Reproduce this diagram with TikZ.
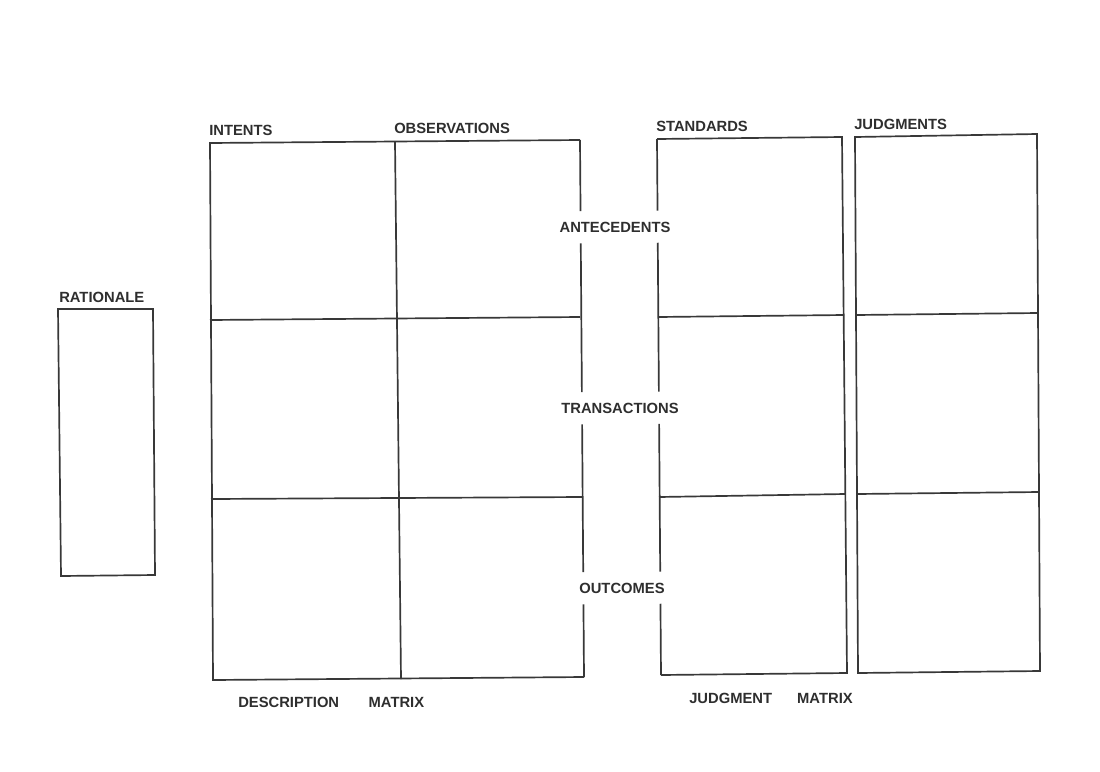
\documentclass[tikz,border=0pt]{standalone}
\usepackage{fontspec}
\setmainfont{Liberation Sans}
\usetikzlibrary{calc}
\tikzset{every node/.style={font=\bfseries\fontsize{10.5}{12}\selectfont, text=inkcol, inner sep=1pt}}
\tikzset{rowlabel/.style={inner xsep=2pt, inner ysep=0.25cm}}

\begin{document}
\begin{tikzpicture}[x=0.025cm, y=-0.025cm, line width=1.2pt]
  % Bounding box of the scanned page
  \path[use as bounding box] (0,0) rectangle (1100,771);

  % Colours of the scan.
  \colorlet{inkcol}{black!82}
  \colorlet{linecol}{black!78}

  % Corners of the rationale box.
  \coordinate (RTL) at (58,309);
  \coordinate (RTR) at (153,309);
  \coordinate (RBR) at (155,575);
  \coordinate (RBL) at (61,576);

  % Corners of the description matrix.
  \coordinate (DTL) at (210,143);
  \coordinate (DTM) at (395,142);
  \coordinate (DTR) at (580,140);
  \coordinate (DBL) at (213,680);
  \coordinate (DBM) at (401,679);
  \coordinate (DBR) at (584,677);

  % Corners of the standards column.
  \coordinate (STL) at (657,139);
  \coordinate (STR) at (842,137);
  \coordinate (SBL) at (661,675);
  \coordinate (SBR) at (847,673);

  % Corners of the judgments column.
  \coordinate (JTL) at (855,137);
  \coordinate (JTR) at (1037,134);
  \coordinate (JBL) at (858,673);
  \coordinate (JBR) at (1040,671);

  % Column headings.
  \node[anchor=west] (rationale) at (57,297) {RATIONALE};
  \node[anchor=west] (intents) at (207,130) {INTENTS};
  \node[anchor=west] (observ) at (392,128) {OBSERVATIONS};
  \node[anchor=west] (standards) at (654,126) {STANDARDS};
  \node[anchor=west] (judgments) at (852,124) {JUDGMENTS};

  % Row labels between the two matrices.
  \node[rowlabel] (ante) at (615,227) {ANTECEDENTS};
  \node[rowlabel] (trans) at (620,408) {TRANSACTIONS};
  \node[rowlabel] (outc) at (622,588) {OUTCOMES};

  % Matrix names.
  \node[anchor=west] (descm) at (236,702) {DESCRIPTION\hspace{2em}MATRIX};
  \node[anchor=west] (judgm) at (687,698) {JUDGMENT\hspace{1.7em}MATRIX};

  % Rationale box.
  \draw[linecol] (RTL) -- (RTR) -- (RBR) -- (RBL) -- cycle;

  % Description matrix: outer frame, open on the right at the row labels.
  \draw[linecol] (DTR) -- (DTL) -- (DBL) -- (DBR);
  \draw[linecol] (DTR) -- ($(DTR)!(ante.north)!(DBR)$);
  \draw[linecol] ($(DTR)!(ante.south)!(DBR)$) -- ($(DTR)!(trans.north)!(DBR)$);
  \draw[linecol] ($(DTR)!(trans.south)!(DBR)$) -- ($(DTR)!(outc.north)!(DBR)$);
  \draw[linecol] ($(DTR)!(outc.south)!(DBR)$) -- (DBR);
  \draw[linecol] (DTM) -- (DBM);
  \draw[linecol] (210,320) -- (580,317);
  \draw[linecol] (211,499) -- (582,497);

  % Standards column, open on the left at the row labels.
  \draw[linecol] (STL) -- (STR) -- (SBR) -- (SBL);
  \draw[linecol] (STL) -- ($(STL)!(ante.north)!(SBL)$);
  \draw[linecol] ($(STL)!(ante.south)!(SBL)$) -- ($(STL)!(trans.north)!(SBL)$);
  \draw[linecol] ($(STL)!(trans.south)!(SBL)$) -- ($(STL)!(outc.north)!(SBL)$);
  \draw[linecol] ($(STL)!(outc.south)!(SBL)$) -- (SBL);
  \draw[linecol] (658,317) -- (844,315);
  \draw[linecol] (659,497) -- (845,494);

  % Judgments column.
  \draw[linecol] (JTL) -- (JTR) -- (JBR) -- (JBL) -- cycle;
  \draw[linecol] (856,315) -- (1038,313);
  \draw[linecol] (857,494) -- (1039,492);
\end{tikzpicture}
\end{document}
